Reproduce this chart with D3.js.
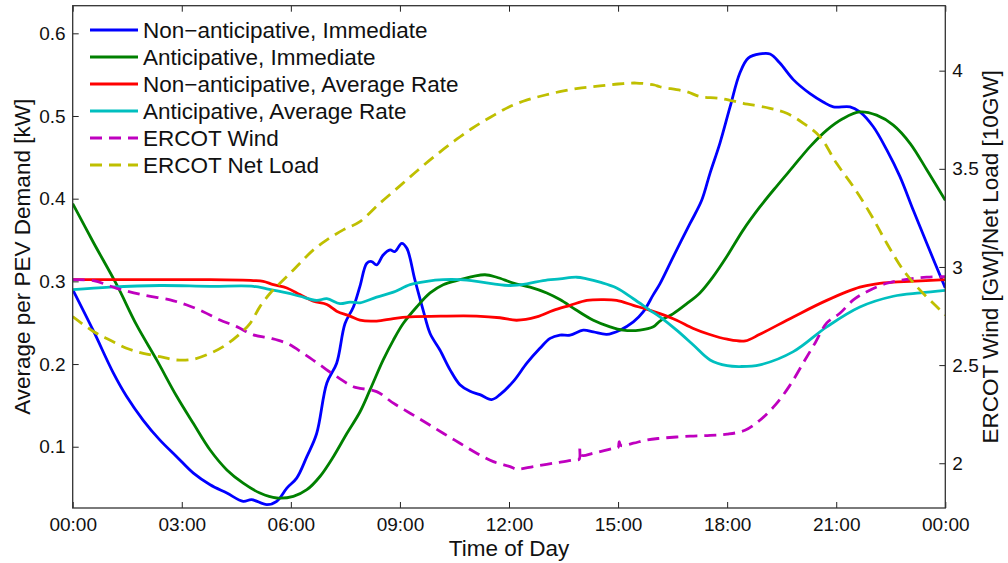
<!DOCTYPE html>
<meta charset="utf-8">
<style>
body { margin: 0; background: #fff; }
svg { display: block; font-family: "Liberation Sans", Arial, sans-serif; }
.tick line { stroke: #222; }
.tick text { font-size: 19px; fill: #111; }
.series { fill: none; stroke-width: 2.8px; stroke-linejoin: round; }
.dashed { stroke-dasharray: 12, 7; }
.title { font-size: 22.5px; fill: #111; }
.legend text { font-size: 22.5px; fill: #111; }
</style>
<body>
<script src="https://cdn.jsdelivr.net/npm/d3@7"></script>
<script>
// time of day in hours
var nonAntImmediate = [[0,0.290],[0.57,0.240],[1.12,0.189],[1.48,0.161],[1.94,0.132],[2.40,0.108],[2.86,0.088],[3.32,0.068],[3.78,0.054],[4.24,0.044],[4.69,0.034],[4.92,0.036],[5.34,0.030],[5.61,0.034],[5.89,0.050],[6.16,0.062],[6.44,0.088],[6.71,0.116],[6.99,0.177],[7.26,0.201],[7.49,0.249],[7.72,0.269],[7.90,0.294],[8.09,0.322],[8.22,0.324],[8.36,0.320],[8.54,0.332],[8.73,0.338],[8.86,0.336],[9.05,0.346],[9.19,0.340],[9.41,0.302],[9.64,0.265],[9.83,0.237],[10.10,0.217],[10.38,0.193],[10.65,0.175],[10.93,0.167],[11.20,0.163],[11.52,0.157],[11.75,0.163],[12.12,0.179],[12.49,0.201],[12.85,0.219],[13.13,0.231],[13.40,0.235],[13.68,0.235],[14.04,0.241],[14.32,0.239],[14.69,0.236],[15.05,0.241],[15.42,0.251],[15.69,0.263],[15.97,0.284],[16.15,0.297],[16.52,0.330],[16.98,0.370],[17.30,0.398],[17.53,0.431],[17.80,0.467],[18.08,0.511],[18.35,0.552],[18.58,0.570],[18.90,0.575],[19.18,0.575],[19.45,0.564],[19.82,0.544],[20.28,0.527],[20.64,0.517],[20.92,0.511],[21.38,0.511],[21.65,0.505],[22.02,0.487],[22.39,0.459],[22.75,0.427],[23.12,0.386],[23.49,0.346],[24,0.292]];
var antImmediate = [[0,0.394],[0.57,0.347],[1.21,0.296],[1.76,0.247],[2.31,0.205],[2.86,0.161],[3.32,0.128],[3.78,0.096],[4.24,0.072],[4.69,0.056],[5.15,0.044],[5.61,0.038],[6.07,0.040],[6.44,0.048],[6.80,0.064],[7.17,0.088],[7.54,0.116],[7.90,0.142],[8.18,0.169],[8.54,0.205],[8.82,0.229],[9.09,0.249],[9.46,0.269],[9.83,0.286],[10.19,0.296],[10.65,0.302],[11.02,0.306],[11.34,0.308],[11.66,0.305],[12.12,0.298],[12.58,0.293],[13.04,0.286],[13.40,0.278],[13.86,0.265],[14.32,0.253],[14.78,0.245],[15.14,0.241],[15.60,0.241],[15.97,0.245],[16.15,0.252],[16.52,0.261],[16.89,0.273],[17.25,0.286],[17.62,0.306],[17.99,0.330],[18.44,0.362],[18.90,0.390],[19.36,0.415],[19.82,0.439],[20.28,0.463],[20.74,0.483],[21.19,0.497],[21.65,0.505],[22.11,0.501],[22.57,0.489],[23.03,0.467],[23.49,0.435],[24,0.398]];
var nonAntAverage = [[0,0.302],[1.0,0.302],[2.4,0.302],[3.78,0.302],[4.97,0.301],[5.24,0.300],[5.52,0.296],[5.89,0.292],[6.25,0.284],[6.62,0.276],[6.99,0.272],[7.26,0.264],[7.63,0.258],[7.90,0.253],[8.36,0.252],[8.82,0.255],[9.28,0.257],[10.19,0.258],[11.11,0.258],[11.75,0.256],[12.21,0.253],[12.76,0.257],[13.22,0.265],[13.68,0.271],[14.14,0.277],[14.59,0.278],[14.96,0.277],[15.42,0.271],[15.88,0.265],[16.15,0.261],[16.61,0.253],[17.07,0.243],[17.5,0.236],[18.0,0.230],[18.5,0.228],[18.9,0.236],[19.82,0.257],[20.74,0.277],[21.65,0.293],[22.11,0.297],[22.57,0.299],[23.03,0.300],[24,0.302]];
var antAverage = [[0,0.290],[1.02,0.293],[2.4,0.295],[3.78,0.294],[4.97,0.294],[5.34,0.291],[5.89,0.286],[6.25,0.282],[6.71,0.277],[6.99,0.279],[7.35,0.273],[7.63,0.275],[7.90,0.274],[8.36,0.281],[8.82,0.287],[9.28,0.296],[9.74,0.300],[10.19,0.302],[10.65,0.302],[11.11,0.300],[11.57,0.297],[12.03,0.295],[12.49,0.297],[12.94,0.301],[13.40,0.303],[13.86,0.305],[14.14,0.303],[14.50,0.299],[14.96,0.292],[15.42,0.279],[15.88,0.265],[16.15,0.257],[16.61,0.241],[17.07,0.223],[17.53,0.205],[18.0,0.198],[18.35,0.197],[18.9,0.199],[19.82,0.215],[20.74,0.245],[21.65,0.269],[22.57,0.282],[23.31,0.286],[24,0.289]];
// right axis series [GW] and [10GW]
var ercotWind = [[0,2.935],[0.57,2.930],[1.21,2.891],[1.94,2.857],[2.68,2.832],[3.14,2.806],[3.59,2.772],[4.05,2.730],[4.51,2.696],[4.97,2.654],[5.43,2.637],[5.89,2.611],[6.34,2.560],[6.80,2.501],[7.26,2.441],[7.72,2.390],[7.90,2.382],[8.36,2.365],[8.82,2.306],[9.28,2.255],[9.74,2.204],[10.19,2.153],[10.65,2.102],[11.11,2.051],[11.57,2.008],[12.03,1.983],[12.21,1.970],[12.67,1.983],[13.22,2.000],[13.77,2.017],[13.93,2.020],[13.95,2.076],[14.0,2.040],[14.32,2.051],[14.87,2.076],[15.0,2.080],[15.03,2.110],[15.08,2.090],[15.42,2.102],[15.79,2.119],[16.15,2.127],[16.98,2.138],[17.53,2.142],[18.0,2.148],[18.49,2.168],[18.90,2.219],[19.32,2.296],[19.73,2.398],[20.14,2.526],[20.42,2.613],[20.74,2.715],[21.10,2.764],[21.47,2.832],[21.84,2.874],[22.39,2.917],[22.94,2.937],[23.49,2.948],[24,2.951]];
var ercotNetLoad = [[0,2.747],[0.57,2.671],[1.02,2.628],[1.48,2.586],[1.94,2.560],[2.40,2.543],[2.86,2.526],[3.32,2.530],[3.78,2.560],[4.14,2.594],[4.51,2.645],[4.88,2.713],[5.15,2.798],[5.43,2.866],[5.70,2.917],[5.98,2.968],[6.25,3.019],[6.62,3.087],[6.99,3.138],[7.44,3.189],[7.90,3.231],[8.45,3.325],[9.0,3.413],[9.5,3.494],[10.0,3.571],[10.5,3.642],[11.0,3.708],[11.5,3.764],[12.0,3.815],[12.5,3.851],[13.0,3.876],[13.5,3.897],[14.0,3.912],[14.5,3.922],[15.0,3.932],[15.5,3.937],[16.0,3.927],[16.15,3.918],[16.89,3.893],[17.25,3.868],[17.80,3.859],[18.44,3.834],[19.18,3.808],[19.64,3.783],[20.10,3.732],[20.55,3.664],[21.01,3.528],[21.47,3.409],[21.93,3.274],[22.39,3.121],[22.84,2.985],[23.30,2.883],[23.76,2.798],[24,2.755]];

var xTicks = [0, 3, 6, 9, 12, 15, 18, 21, 24];
var leftTicks = [0.1, 0.2, 0.3, 0.4, 0.5, 0.6];
var rightTicks = [2, 2.5, 3, 3.5, 4];

var series = [
  {name: "Non\u2212anticipative, Immediate", data: nonAntImmediate, color: "#0000ff", axis: "left", dash: false},
  {name: "Anticipative, Immediate", data: antImmediate, color: "#008000", axis: "left", dash: false},
  {name: "Non\u2212anticipative, Average Rate", data: nonAntAverage, color: "#ff0000", axis: "left", dash: false},
  {name: "Anticipative, Average Rate", data: antAverage, color: "#00bfbf", axis: "left", dash: false},
  {name: "ERCOT Wind", data: ercotWind, color: "#bf00bf", axis: "right", dash: true},
  {name: "ERCOT Net Load", data: ercotNetLoad, color: "#bfbf00", axis: "right", dash: true}
];

var width = 1008, height = 563;
var box = {left: 72.7, right: 945.3, top: 5.7, bottom: 508};

var x = d3.scaleLinear().domain([0, 24]).range([box.left, box.right]);
var yL = d3.scaleLinear().domain([0.0259, 0.6334]).range([box.bottom, box.top]);
var yR = d3.scaleLinear().domain([1.772, 4.331]).range([box.bottom, box.top]);

var svg = d3.select("body").append("svg")
    .attr("width", width)
    .attr("height", height);

// clip the lines to the axes box
svg.append("clipPath").attr("id", "plot")
  .append("rect").attr("x", box.left).attr("y", box.top)
  .attr("width", box.right - box.left).attr("height", box.bottom - box.top);

var plot = svg.append("g").attr("clip-path", "url(#plot)");

series.forEach(function(s) {
  var y = s.axis == "left" ? yL : yR;
  var line = d3.line()
      .x(function(d) { return x(d[0]); })
      .y(function(d) { return y(d[1]); })
      .curve(d3.curveCatmullRom.alpha(0.5));
  plot.append("path")
    .attr("class", "series" + (s.dash ? " dashed" : ""))
    .attr("stroke", s.color)
    .attr("d", line(s.data));
});

// axes, ticks pointing inward like matlab
var hh = function(h) { return (h % 24 < 10 ? "0" : "") + (h % 24) + ":00"; };

svg.append("g")
    .attr("transform", "translate(0," + box.bottom + ")")
    .call(d3.axisBottom(x).tickValues(xTicks).tickFormat(hh).tickSizeInner(-6).tickSizeOuter(0).tickPadding(10));

svg.append("g")
    .attr("transform", "translate(0," + box.top + ")")
    .call(d3.axisTop(x).tickValues(xTicks).tickFormat("").tickSizeInner(-6).tickSizeOuter(0));

svg.append("g")
    .attr("transform", "translate(" + box.left + ",0)")
    .call(d3.axisLeft(yL).tickValues(leftTicks).tickFormat(d3.format(".1f")).tickSizeInner(-6).tickSizeOuter(0).tickPadding(7));

svg.append("g")
    .attr("transform", "translate(" + box.right + ",0)")
    .call(d3.axisRight(yR).tickValues(rightTicks).tickFormat(function(d) { return String(d); }).tickSizeInner(-6).tickSizeOuter(0).tickPadding(7));

svg.selectAll(".domain").remove();

svg.append("rect")
    .attr("x", box.left).attr("y", box.top)
    .attr("width", box.right - box.left).attr("height", box.bottom - box.top)
    .attr("fill", "none")
    .attr("stroke", "#333")
    .attr("stroke-width", 1.3);

// axis titles
svg.append("text").attr("class", "title")
    .attr("x", (box.left + box.right) / 2).attr("y", 556)
    .attr("text-anchor", "middle")
    .text("Time of Day");

svg.append("text").attr("class", "title")
    .attr("transform", "translate(30," + (box.top + box.bottom) / 2 + ") rotate(-90)")
    .attr("text-anchor", "middle")
    .text("Average per PEV Demand [kW]");

svg.append("text").attr("class", "title")
    .attr("transform", "translate(998," + (box.top + box.bottom) / 2 + ") rotate(-90)")
    .attr("text-anchor", "middle")
    .text("ERCOT Wind [GW]/Net Load [10GW]");

// legend
var legend = svg.append("g").attr("class", "legend");
series.forEach(function(s, i) {
  var ly = 30 + i * 27;
  legend.append("line")
    .attr("class", s.dash ? "dashed" : null)
    .attr("x1", 90).attr("x2", 138)
    .attr("y1", ly).attr("y2", ly)
    .attr("stroke", s.color)
    .attr("stroke-width", 2.8);
  legend.append("text")
    .attr("x", 143).attr("y", ly)
    .attr("dy", "0.36em")
    .text(s.name);
});
</script>
</body>
